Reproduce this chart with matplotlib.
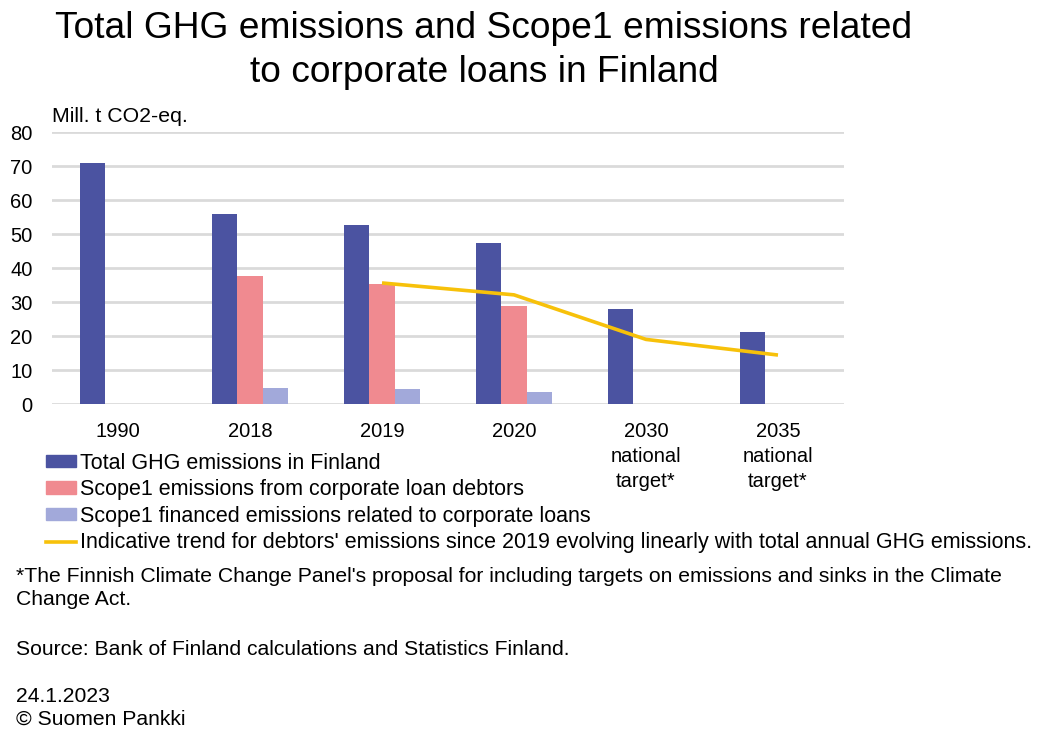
import matplotlib
matplotlib.use("Agg")
import matplotlib.pyplot as plt
import matplotlib.patches as mpatches
import matplotlib.lines as mlines
import numpy as np

plt.rcParams['font.family'] = ['Liberation Sans', 'DejaVu Sans']

# --- data ---
categories = ["1990", "2018", "2019", "2020", "2030\nnational\ntarget*", "2035\nnational\ntarget*"]
total_ghg = [71.0, 55.8, 52.6, 47.5, 27.8, 21.3]
scope1_debtors = [np.nan, 37.7, 35.2, 28.9, np.nan, np.nan]
scope1_financed = [np.nan, 4.8, 4.5, 3.6, np.nan, np.nan]
trend_cats = ["2019", "2020", "2030", "2035"]
trend_vals = [35.6, 32.1, 19.0, 14.4]

labels = ["Total GHG emissions in Finland",
          "Scope1 emissions from corporate loan debtors",
          "Scope1 financed emissions related to corporate loans",
          "Indicative trend for debtors' emissions since 2019 evolving linearly with total annual GHG emissions."]

c_total = "#4B53A1"
c_scope1 = "#F08A90"
c_fin = "#A2A9DA"
c_trend = "#F7C10A"

W, H = 1043, 731
fig = plt.figure(figsize=(W / 100, H / 100), dpi=100)
ax = fig.add_axes([52 / W, 1 - 404 / H, 792 / W, 272 / H])

x = np.arange(len(categories))
bw = 0.19
ax.bar(x - bw, total_ghg, bw, color=c_total, zorder=3)
ax.bar(x, scope1_debtors, bw, color=c_scope1, zorder=3)
ax.bar(x + bw, scope1_financed, bw, color=c_fin, zorder=3)

# trend line sits on the category centres from 2019 onwards
years = [c.split("\n")[0] for c in categories]
trend_x = [years.index(c) for c in trend_cats]
ax.plot(trend_x, trend_vals, color=c_trend, lw=2.6, zorder=4, solid_capstyle='butt')

ax.set_xlim(-0.5, 5.5)
ax.set_ylim(0, 80)
ax.set_yticks(range(0, 81, 10))
ax.set_xticks(x)
ax.set_xticklabels(categories, fontsize=14.5, linespacing=1.4)
ax.tick_params(axis='y', length=0, pad=14, labelsize=14.5)
ax.tick_params(axis='x', length=0, pad=13)
ax.grid(axis='y', color='#DADADA', lw=2, zorder=0)
for s in ax.spines.values():
    s.set_visible(False)

fig.text(52 / W, 1 - 117 / H, "Mill. t CO2-eq.", fontsize=15.3, va='center', ha='left')

# title
fig.text(484 / W, 1 - 38 / H, "Total GHG emissions and Scope1 emissions related",
         fontsize=26.7, ha='center', va='baseline')
fig.text(484 / W, 1 - 82 / H, "to corporate loans in Finland",
         fontsize=26.7, ha='center', va='baseline')

# legend
handles = [mpatches.Patch(color=c_total), mpatches.Patch(color=c_scope1),
           mpatches.Patch(color=c_fin), mlines.Line2D([], [], color=c_trend, lw=2.6)]
fig.legend(handles, labels, loc='upper left', bbox_to_anchor=(37 / W, 1 - 444 / H),
           frameon=False, fontsize=15.5, handlelength=1.4, handleheight=0.5,
           handletextpad=0.22, labelspacing=0.26, borderaxespad=0)

# notes
notes = [("*The Finnish Climate Change Panel's proposal for including targets on emissions and sinks in the Climate", 582),
         ("Change Act.", 605),
         ("Source: Bank of Finland calculations and Statistics Finland.", 655),
         ("24.1.2023", 702),
         ("\u00a9 Suomen Pankki", 725)]
for txt, yb in notes:
    fig.text(16 / W, 1 - yb / H, txt, fontsize=15.2, ha='left', va='baseline')

fig.savefig("out.png", dpi=100)
